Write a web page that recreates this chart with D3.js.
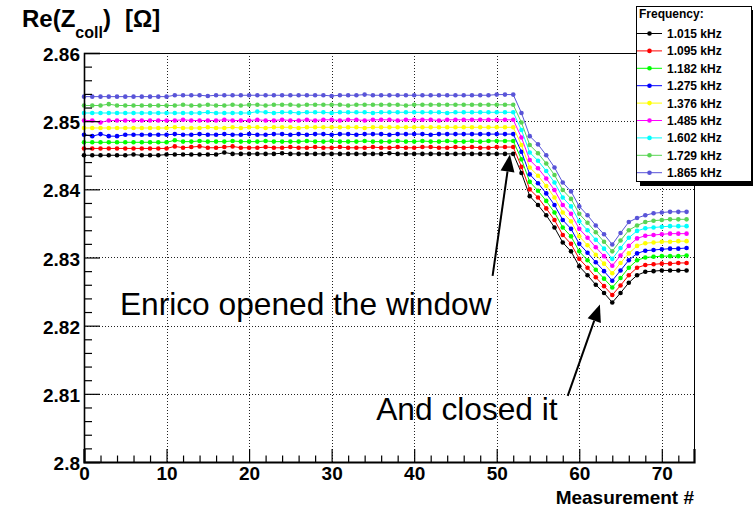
<!DOCTYPE html>
<html>
<head>
<meta charset="utf-8">
<script src="https://cdn.jsdelivr.net/npm/d3@7"></script>
<style>
body { margin: 0; background: #fff; }
text { font-family: "Liberation Sans", Arial, Helvetica, sans-serif; }
</style>
</head>
<body>
<div class="chart"></div>
<script>
// Measurement index (x) and the nine frequencies
var measurement = d3.range(0, 74);
var freqLabels = ["1.015 kHz", "1.095 kHz", "1.182 kHz", "1.275 kHz", "1.376 kHz",
                  "1.485 kHz", "1.602 kHz", "1.729 kHz", "1.865 kHz"];
var colors = ["#000000", "#ff0000", "#00ff00", "#0000ff", "#ffff00",
              "#ff00ff", "#00ffff", "#59d454", "#5954d8"];

var xTicks = [0, 10, 20, 30, 40, 50, 60, 70];
var yTicks = [2.80, 2.81, 2.82, 2.83, 2.84, 2.85, 2.86];
var yTickLabels = ["2.8", "2.81", "2.82", "2.83", "2.84", "2.85", "2.86"];

// Re(Z_coll) per frequency: points 0..52 (window closed), then 53..73
var flat1015 = [2.8450,2.8450,2.8450,2.8450,2.8450,2.8450,2.8451,2.8450,2.8450,2.8450,
  2.8451,2.8451,2.8451,2.8451,2.8451,2.8451,2.8451,2.8454,2.8452,2.8452,
  2.8452,2.8452,2.8452,2.8452,2.8453,2.8452,2.8452,2.8452,2.8452,2.8452,
  2.8452,2.8452,2.8452,2.8452,2.8452,2.8452,2.8452,2.8453,2.8452,2.8452,
  2.8452,2.8452,2.8452,2.8452,2.8452,2.8452,2.8452,2.8452,2.8452,2.8452,
  2.8452,2.8452,2.8452];
var drop1015 = [2.8424,2.8390,2.8377,2.8362,2.8344,2.8322,2.8309,2.8287,2.8274,2.8260,2.8248,
  2.8234,2.8248,2.8263,2.8274,2.8279,2.8280,2.8281,2.8281,2.8281,2.8281];

var flat1095 = [2.8460,2.8460,2.8460,2.8460,2.8460,2.8460,2.8460,2.8460,2.8460,2.8460,
  2.8460,2.8463,2.8461,2.8462,2.8463,2.8461,2.8461,2.8462,2.8463,2.8461,
  2.8461,2.8461,2.8462,2.8461,2.8461,2.8462,2.8461,2.8461,2.8462,2.8461,
  2.8461,2.8462,2.8461,2.8461,2.8461,2.8462,2.8461,2.8461,2.8462,2.8461,
  2.8461,2.8462,2.8462,2.8461,2.8461,2.8462,2.8461,2.8462,2.8461,2.8461,
  2.8462,2.8462,2.8462];
var drop1095 = [2.8433,2.8400,2.8388,2.8372,2.8355,2.8333,2.8320,2.8298,2.8285,2.8271,2.8258,
  2.8245,2.8259,2.8274,2.8285,2.8289,2.8290,2.8291,2.8291,2.8292,2.8292];

var flat1182 = [2.8469,2.8469,2.8469,2.8469,2.8469,2.8469,2.8469,2.8469,2.8469,2.8469,
  2.8469,2.8472,2.8470,2.8470,2.8471,2.8470,2.8470,2.8470,2.8471,2.8470,
  2.8470,2.8470,2.8471,2.8470,2.8470,2.8470,2.8470,2.8471,2.8470,2.8470,
  2.8471,2.8470,2.8470,2.8470,2.8471,2.8470,2.8470,2.8470,2.8471,2.8470,
  2.8470,2.8471,2.8470,2.8470,2.8471,2.8470,2.8470,2.8471,2.8470,2.8471,
  2.8471,2.8471,2.8471];
var drop1182 = [2.8444,2.8411,2.8398,2.8383,2.8366,2.8344,2.8331,2.8309,2.8296,2.8282,2.8269,
  2.8256,2.8270,2.8285,2.8296,2.8300,2.8301,2.8302,2.8302,2.8302,2.8303];

var flat1275 = [2.8480,2.8478,2.8481,2.8478,2.8478,2.8480,2.8480,2.8480,2.8480,2.8480,
  2.8480,2.8481,2.8480,2.8480,2.8481,2.8480,2.8480,2.8481,2.8480,2.8480,
  2.8481,2.8480,2.8480,2.8481,2.8481,2.8480,2.8481,2.8480,2.8481,2.8481,
  2.8480,2.8481,2.8481,2.8480,2.8481,2.8481,2.8481,2.8480,2.8481,2.8481,
  2.8481,2.8481,2.8480,2.8481,2.8481,2.8481,2.8481,2.8481,2.8481,2.8481,
  2.8481,2.8481,2.8481];
var drop1275 = [2.8455,2.8422,2.8409,2.8394,2.8377,2.8355,2.8342,2.8320,2.8307,2.8293,2.8280,
  2.8266,2.8281,2.8296,2.8306,2.8310,2.8311,2.8312,2.8313,2.8313,2.8314];

var flat1376 = [2.8490,2.8490,2.8490,2.8490,2.8490,2.8490,2.8490,2.8490,2.8490,2.8490,
  2.8490,2.8491,2.8490,2.8490,2.8490,2.8491,2.8490,2.8490,2.8491,2.8490,
  2.8491,2.8491,2.8490,2.8491,2.8491,2.8491,2.8490,2.8491,2.8491,2.8491,
  2.8491,2.8491,2.8491,2.8491,2.8490,2.8491,2.8491,2.8491,2.8491,2.8491,
  2.8491,2.8491,2.8491,2.8491,2.8491,2.8491,2.8491,2.8491,2.8491,2.8491,
  2.8491,2.8491,2.8491];
var drop1376 = [2.8465,2.8432,2.8420,2.8405,2.8388,2.8366,2.8353,2.8331,2.8318,2.8304,2.8291,
  2.8277,2.8292,2.8306,2.8317,2.8321,2.8322,2.8323,2.8323,2.8324,2.8324];

var flat1485 = [2.8501,2.8501,2.8498,2.8501,2.8501,2.8501,2.8501,2.8501,2.8501,2.8501,
  2.8501,2.8501,2.8502,2.8501,2.8501,2.8501,2.8501,2.8502,2.8501,2.8501,
  2.8501,2.8502,2.8501,2.8501,2.8502,2.8501,2.8501,2.8502,2.8501,2.8502,
  2.8502,2.8501,2.8502,2.8502,2.8501,2.8502,2.8502,2.8502,2.8501,2.8502,
  2.8502,2.8502,2.8502,2.8501,2.8502,2.8502,2.8502,2.8502,2.8502,2.8502,
  2.8502,2.8502,2.8502];
var drop1485 = [2.8476,2.8443,2.8431,2.8416,2.8399,2.8377,2.8364,2.8342,2.8329,2.8315,2.8302,
  2.8288,2.8303,2.8317,2.8328,2.8332,2.8333,2.8334,2.8335,2.8335,2.8335];

var flat1602 = [2.8512,2.8512,2.8512,2.8512,2.8512,2.8512,2.8512,2.8512,2.8512,2.8512,
  2.8512,2.8512,2.8512,2.8512,2.8512,2.8513,2.8512,2.8512,2.8512,2.8512,
  2.8512,2.8514,2.8513,2.8512,2.8513,2.8513,2.8512,2.8513,2.8513,2.8513,
  2.8512,2.8513,2.8513,2.8513,2.8513,2.8512,2.8513,2.8513,2.8513,2.8513,
  2.8513,2.8513,2.8513,2.8513,2.8512,2.8513,2.8513,2.8513,2.8513,2.8513,
  2.8513,2.8513,2.8513];
var drop1602 = [2.8487,2.8454,2.8442,2.8427,2.8410,2.8388,2.8375,2.8353,2.8340,2.8326,2.8313,
  2.8298,2.8314,2.8329,2.8339,2.8343,2.8344,2.8345,2.8346,2.8346,2.8346];

var flat1729 = [2.8523,2.8523,2.8523,2.8525,2.8523,2.8523,2.8523,2.8523,2.8523,2.8523,
  2.8523,2.8523,2.8524,2.8523,2.8523,2.8524,2.8523,2.8523,2.8524,2.8523,
  2.8524,2.8524,2.8523,2.8524,2.8524,2.8524,2.8523,2.8524,2.8524,2.8524,
  2.8524,2.8524,2.8523,2.8524,2.8524,2.8524,2.8524,2.8524,2.8524,2.8523,
  2.8524,2.8524,2.8524,2.8524,2.8524,2.8524,2.8524,2.8524,2.8524,2.8524,
  2.8524,2.8524,2.8524];
var drop1729 = [2.8498,2.8465,2.8453,2.8438,2.8421,2.8399,2.8386,2.8364,2.8351,2.8337,2.8323,
  2.8309,2.8325,2.8340,2.8347,2.8352,2.8354,2.8355,2.8356,2.8356,2.8356];

var flat1865 = [2.8536,2.8536,2.8536,2.8536,2.8536,2.8536,2.8536,2.8536,2.8536,2.8536,
  2.8536,2.8538,2.8538,2.8538,2.8538,2.8537,2.8538,2.8538,2.8538,2.8538,
  2.8538,2.8538,2.8538,2.8538,2.8538,2.8538,2.8538,2.8538,2.8538,2.8538,
  2.8537,2.8538,2.8538,2.8538,2.8539,2.8538,2.8538,2.8538,2.8538,2.8538,
  2.8538,2.8538,2.8538,2.8538,2.8538,2.8538,2.8538,2.8538,2.8538,2.8538,
  2.8539,2.8539,2.8539];
var drop1865 = [2.8512,2.8478,2.8466,2.8450,2.8432,2.8410,2.8397,2.8375,2.8362,2.8347,2.8334,
  2.8319,2.8336,2.8352,2.8358,2.8362,2.8365,2.8366,2.8367,2.8367,2.8367];

// annotation anchors in data units
var openedText = {x: 4.35, y: 2.8216, label: "Enrico opened the window"};
var closedText = {x: 35.4, y: 2.8061, label: "And closed it"};
var openedArrow = {x0: 49.5, y0: 2.8273, x1: 51.6, y1: 2.8451};
var closedArrow = {x0: 58.6, y0: 2.8097, x1: 62.5, y1: 2.8231};

var series = [
    flat1015.concat(drop1015), flat1095.concat(drop1095), flat1182.concat(drop1182),
    flat1275.concat(drop1275), flat1376.concat(drop1376), flat1485.concat(drop1485),
    flat1602.concat(drop1602), flat1729.concat(drop1729), flat1865.concat(drop1865)
];

var svgWidth = 753, svgHeight = 512;
var frame = {left: 84, right: 694, top: 53, bottom: 462};

var svg = d3.select(".chart").append("svg")
    .attr("width", svgWidth)
    .attr("height", svgHeight)
    .style("display", "block");

svg.append("rect").attr("width", svgWidth).attr("height", svgHeight).attr("fill", "#fff");

var x = d3.scaleLinear().domain([0, 73.9]).range([frame.left, frame.right]);
var y = d3.scaleLinear().domain([2.80, 2.86]).range([frame.bottom, frame.top]);

// grid
var grid = svg.append("g").attr("class", "grid")
    .attr("stroke", "#222").attr("stroke-width", 1).attr("stroke-dasharray", "1,2");
grid.selectAll(".gx").data(xTicks.filter(function(d) { return d > 0; }))
    .enter().append("line")
    .attr("x1", function(d) { return Math.round(x(d)) + 0.5; })
    .attr("x2", function(d) { return Math.round(x(d)) + 0.5; })
    .attr("y1", frame.top).attr("y2", frame.bottom);
grid.selectAll(".gy").data(yTicks.slice(1, -1))
    .enter().append("line")
    .attr("y1", function(d) { return Math.round(y(d)) + 0.5; })
    .attr("y2", function(d) { return Math.round(y(d)) + 0.5; })
    .attr("x1", frame.left).attr("x2", frame.right);

// frame
svg.append("rect")
    .attr("x", frame.left + 0.5).attr("y", frame.top + 0.5)
    .attr("width", frame.right - frame.left).attr("height", frame.bottom - frame.top)
    .attr("fill", "none").attr("stroke", "#000").attr("stroke-width", 1);

// curves
var line = d3.line()
    .x(function(d, i) { return x(measurement[i]); })
    .y(function(d) { return y(d); });

series.forEach(function(values, k) {
    var g = svg.append("g").attr("class", "series");
    g.append("path")
        .datum(values)
        .attr("fill", "none")
        .attr("stroke", colors[k])
        .attr("stroke-width", 1)
        .attr("d", line);
    g.selectAll("circle").data(values).enter().append("circle")
        .attr("cx", function(d, i) { return x(measurement[i]); })
        .attr("cy", function(d) { return y(d); })
        .attr("r", 2.3)
        .attr("fill", colors[k]);
});

// axes
var xMinor = d3.range(0, 74, 2).filter(function(d) { return d % 10 !== 0; });
var yMinor = d3.range(0, 31).map(function(i) { return 2.80 + i * 0.002; })
    .filter(function(d, i) { return i % 5 !== 0; });

var xAxis = svg.append("g")
    .attr("transform", "translate(0," + frame.bottom + ")")
    .call(d3.axisBottom(x).tickValues(xTicks).tickSize(-13).tickPadding(5).tickFormat(d3.format("d")));
svg.append("g")
    .attr("transform", "translate(0," + frame.bottom + ")")
    .call(d3.axisBottom(x).tickValues(xMinor).tickSize(-6.5).tickFormat(""))
    .select(".domain").remove();

var yAxis = svg.append("g")
    .attr("transform", "translate(" + frame.left + ",0)")
    .call(d3.axisLeft(y).tickValues(yTicks).tickSize(-16).tickPadding(4)
        .tickFormat(function(d, i) { return yTickLabels[i]; }));
svg.append("g")
    .attr("transform", "translate(" + frame.left + ",0)")
    .call(d3.axisLeft(y).tickValues(yMinor).tickSize(-8).tickFormat(""))
    .select(".domain").remove();

svg.selectAll(".tick line").attr("stroke", "#000").attr("stroke-width", 1.2);
xAxis.select(".domain").attr("stroke", "#000").attr("stroke-width", 2.2);
yAxis.select(".domain").attr("stroke", "#000").attr("stroke-width", 1.6);
xAxis.selectAll(".tick text")
    .attr("font-family", "Liberation Sans, Arial, sans-serif")
    .attr("font-size", 19).attr("font-weight", "bold").attr("fill", "#000");
yAxis.selectAll(".tick text")
    .attr("font-family", "Liberation Sans, Arial, sans-serif")
    .attr("font-size", 19).attr("font-weight", "bold").attr("fill", "#000")
    .attr("dy", "0.4em");

// axis titles
svg.append("text")
    .attr("x", frame.right).attr("y", 504)
    .attr("text-anchor", "end")
    .attr("font-size", 19).attr("font-weight", "bold")
    .text("Measurement #");

var title = svg.append("text")
    .attr("x", 22).attr("y", 27)
    .attr("font-size", 24).attr("font-weight", "bold");
title.append("tspan").text("Re(Z");
title.append("tspan").attr("font-size", 16).attr("dy", 11).text("coll");
title.append("tspan").attr("dy", -11).text(")");
title.append("tspan").attr("dx", 14).text("[\u03A9]");

// annotations
function arrow(a) {
    var x0 = x(a.x0), y0 = y(a.y0), x1 = x(a.x1), y1 = y(a.y1);
    var dx = x1 - x0, dy = y1 - y0, len = Math.sqrt(dx * dx + dy * dy);
    var ux = dx / len, uy = dy / len;
    var headLen = 17, headHalf = 7;
    var bx = x1 - ux * headLen, by = y1 - uy * headLen;
    svg.append("line")
        .attr("x1", x0).attr("y1", y0).attr("x2", bx).attr("y2", by)
        .attr("stroke", "#000").attr("stroke-width", 2);
    svg.append("path")
        .attr("d", "M" + x1 + "," + y1 +
            "L" + (bx - uy * headHalf) + "," + (by + ux * headHalf) +
            "L" + (bx + uy * headHalf) + "," + (by - ux * headHalf) + "Z")
        .attr("fill", "#000");
}
arrow(openedArrow);
arrow(closedArrow);

[openedText, closedText].forEach(function(t) {
    svg.append("text")
        .attr("x", x(t.x)).attr("y", y(t.y))
        .attr("font-size", 31.7)
        .attr("fill", "#000")
        .text(t.label);
});

// legend
var legend = svg.append("g").attr("class", "legend");
legend.append("rect")
    .attr("x", 640).attr("y", 10).attr("width", 120).attr("height", 176)
    .attr("fill", "#000");
legend.append("rect")
    .attr("x", 636.5).attr("y", 6.5).attr("width", 115).attr("height", 175)
    .attr("fill", "#fff").attr("stroke", "#000").attr("stroke-width", 1);
legend.append("text")
    .attr("x", 639).attr("y", 18)
    .attr("font-size", 12).attr("font-weight", "bold")
    .text("Frequency:");
var rows = legend.selectAll(".row").data(freqLabels).enter().append("g")
    .attr("transform", function(d, i) { return "translate(0," + (33.5 + i * 17.4) + ")"; });
rows.append("line")
    .attr("x1", 637).attr("x2", 662).attr("y1", 0).attr("y2", 0)
    .attr("stroke", function(d, i) { return colors[i]; }).attr("stroke-width", 1);
rows.append("circle")
    .attr("cx", 649.5).attr("cy", 0).attr("r", 2.3)
    .attr("fill", function(d, i) { return colors[i]; });
rows.append("text")
    .attr("x", 667).attr("y", 4.5)
    .attr("font-size", 12).attr("font-weight", "bold")
    .text(function(d) { return d; });
</script>
</body>
</html>
